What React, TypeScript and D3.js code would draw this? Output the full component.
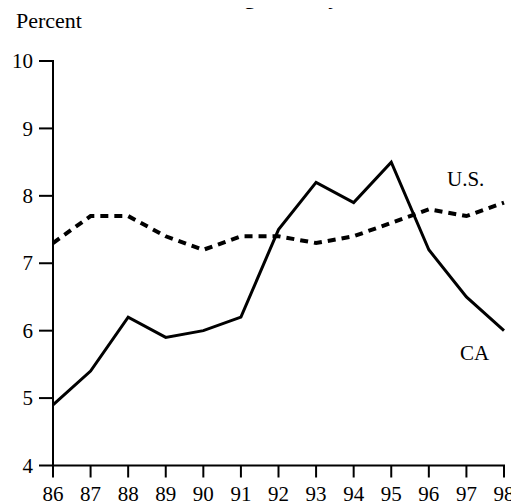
import React from 'react';
import * as d3 from 'd3';

// years on the x axis (two-digit labels)
const years = [86, 87, 88, 89, 90, 91, 92, 93, 94, 95, 96, 97, 98];
// California series
const caValues = [4.9, 5.4, 6.2, 5.9, 6.0, 6.2, 7.5, 8.2, 7.9, 8.5, 7.2, 6.5, 6.0];
// U.S. series
const usValues = [7.3, 7.7, 7.7, 7.4, 7.2, 7.4, 7.4, 7.3, 7.4, 7.6, 7.8, 7.7, 7.9];
const yTicks = [4, 5, 6, 7, 8, 9, 10];

const FONT = 'Liberation Serif';

export default function App() {
	const x = d3.scaleLinear().domain([86, 98]).range([45, 496]);
	const y = d3.scaleLinear().domain([4, 10]).range([457.5, 53]);

	const line = d3.line<number>()
		.x((d, i) => x(years[i]))
		.y((d) => y(d));

	const txt = { fontFamily: FONT, fill: '#000' };

	return (
		<div>
			<svg width={511} height={496} style={{ display: 'block', overflow: 'visible' }}>
				{/* title, mostly cut off by the top edge as in the original */}
				<text x={275} y={-4} textAnchor="middle" style={{ ...txt, fontSize: 22, fontWeight: 'bold' }}>
					Housing Vacancy Rate
				</text>
				<text x={8} y={20} style={{ ...txt, fontSize: 22 }}>Percent</text>

				{/* y axis */}
				<line x1={x(86)} x2={x(86)} y1={y(10) - 1} y2={y(4)} stroke="#000" strokeWidth={2} />
				{yTicks.map((t) => (
					<g key={t} transform={`translate(${x(86)},${y(t)})`}>
						<line x1={-14} x2={0} stroke="#000" strokeWidth={2} />
						<text x={-20} dy="0.34em" textAnchor="end" style={{ ...txt, fontSize: 21 }}>{t}</text>
					</g>
				))}

				{/* x axis */}
				<line x1={x(86) - 1} x2={x(98) + 1} y1={y(4)} y2={y(4)} stroke="#000" strokeWidth={2} />
				{years.map((t) => (
					<g key={t} transform={`translate(${x(t)},${y(4)})`}>
						<line y1={0} y2={12} stroke="#000" strokeWidth={2} />
						<text y={35} textAnchor="middle" style={{ ...txt, fontSize: 21 }}>{t}</text>
					</g>
				))}

				<path d={line(usValues) ?? ''} fill="none" stroke="#000" strokeWidth={4} strokeDasharray="8,6" />
				<path d={line(caValues) ?? ''} fill="none" stroke="#000" strokeWidth={3} />

				<text x={439} y={178} style={{ ...txt, fontSize: 21 }}>U.S.</text>
				<text x={452} y={352} style={{ ...txt, fontSize: 21 }}>CA</text>
			</svg>
		</div>
	);
}
